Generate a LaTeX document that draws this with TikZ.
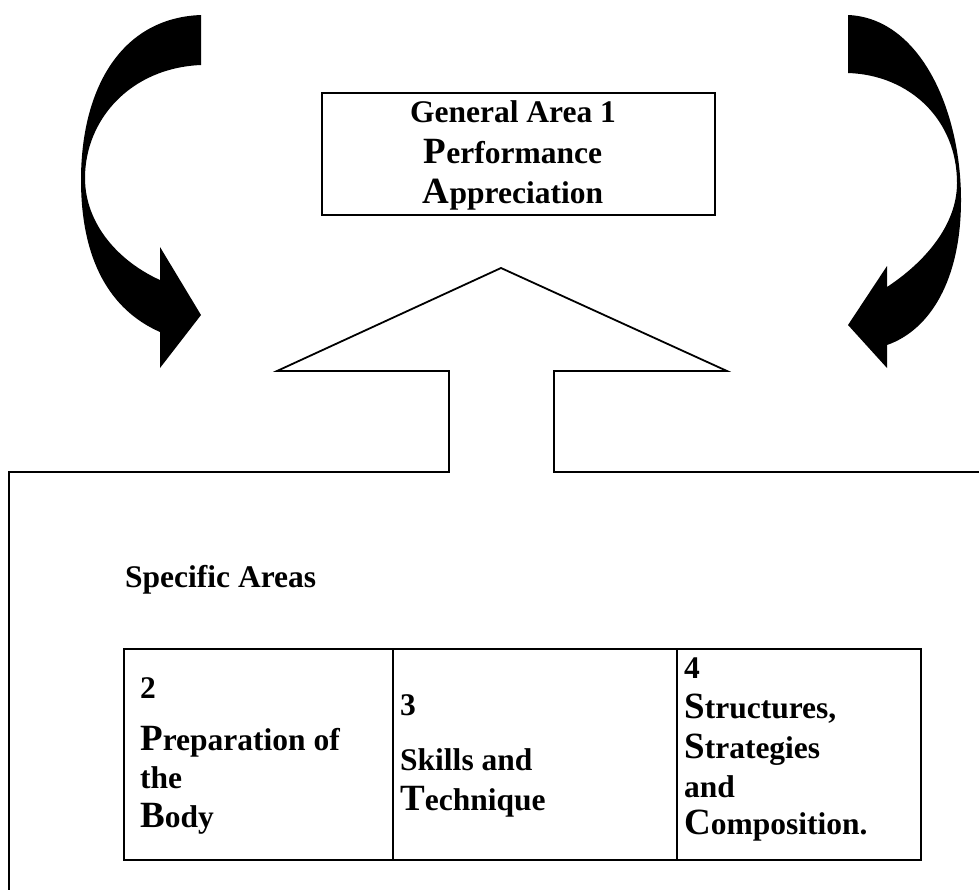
\documentclass[tikz,border=0pt]{standalone}
\usepackage{fontspec}
\setmainfont{Liberation Serif}
\newcommand\ic[1]{{\fontsize{37pt}{37pt}\selectfont #1}}
\tikzset{
  txt/.style={inner sep=0pt, anchor=base west, font=\bfseries\fontsize{31.5pt}{37pt}\selectfont},
  ctxt/.style={txt, anchor=base},
  outline/.style={line width=1.8pt, line join=miter},
  frame/.style={line width=2.6pt},
}
\begin{document}
\begin{tikzpicture}[x=1pt,y=-1pt]
\useasboundingbox (0,0) rectangle (979,889);
% curved arrows
\fill[black] (201,15) .. controls (120,18) and (81,90) .. (81,180)
  .. controls (81,260) and (110,310) .. (160,332)
  -- (160,368) -- (201,315) -- (160,247) -- (160,280)
  .. controls (120,262) and (85,225) .. (85,178)
  .. controls (85,120) and (130,68) .. (201,65) -- cycle;
\fill[black] (848,15) .. controls (920,18) and (961,110) .. (961,200)
  .. controls (961,280) and (930,330) .. (887,345)
  -- (887,368) -- (848,325) -- (887,266) -- (887,287)
  .. controls (925,262) and (957,225) .. (957,183)
  .. controls (957,120) and (910,75) .. (848,73) -- cycle;
% top box
\draw[frame] (322,93) rectangle (715,215);
\node[ctxt] (g1) at (513,122) {General Area 1};
\node[ctxt] (g2) at (513,163) {\ic{P}erformance};
\node[ctxt] (g3) at (513,203) {\ic{A}ppreciation};
% big outline with arrow
\draw[outline] (9,895) -- (9,472) -- (449,472) -- (449,371) -- (277,371)
  -- (501,268) -- (727,371) -- (554,371) -- (554,472) -- (985,472);
\node[txt] (spec) at (125,587) {Specific Areas};
% table
\draw[frame] (124,649) rectangle (921,860);
\draw[frame] (393,649) -- (393,860);
\draw[frame] (677,649) -- (677,860);
\node[txt] (a1) at (140,698) {2};
\node[txt] (a2) at (140,750) {\ic{P}reparation of};
\node[txt] (a3) at (140,788) {the};
\node[txt] (a4) at (140,827) {\ic{B}ody};
\node[txt] (b1) at (400,715) {3};
\node[txt] (b2) at (400,770) {Skills and};
\node[txt] (b3) at (400,810) {\ic{T}echnique};
\node[txt] (c1) at (684,678) {4};
\node[txt] (c2) at (684,718) {\ic{S}tructures,};
\node[txt] (c3) at (684,758) {\ic{S}trategies};
\node[txt] (c4) at (684,797) {and};
\node[txt] (c5) at (684,834) {\ic{C}omposition.};
\end{tikzpicture}
\end{document}
